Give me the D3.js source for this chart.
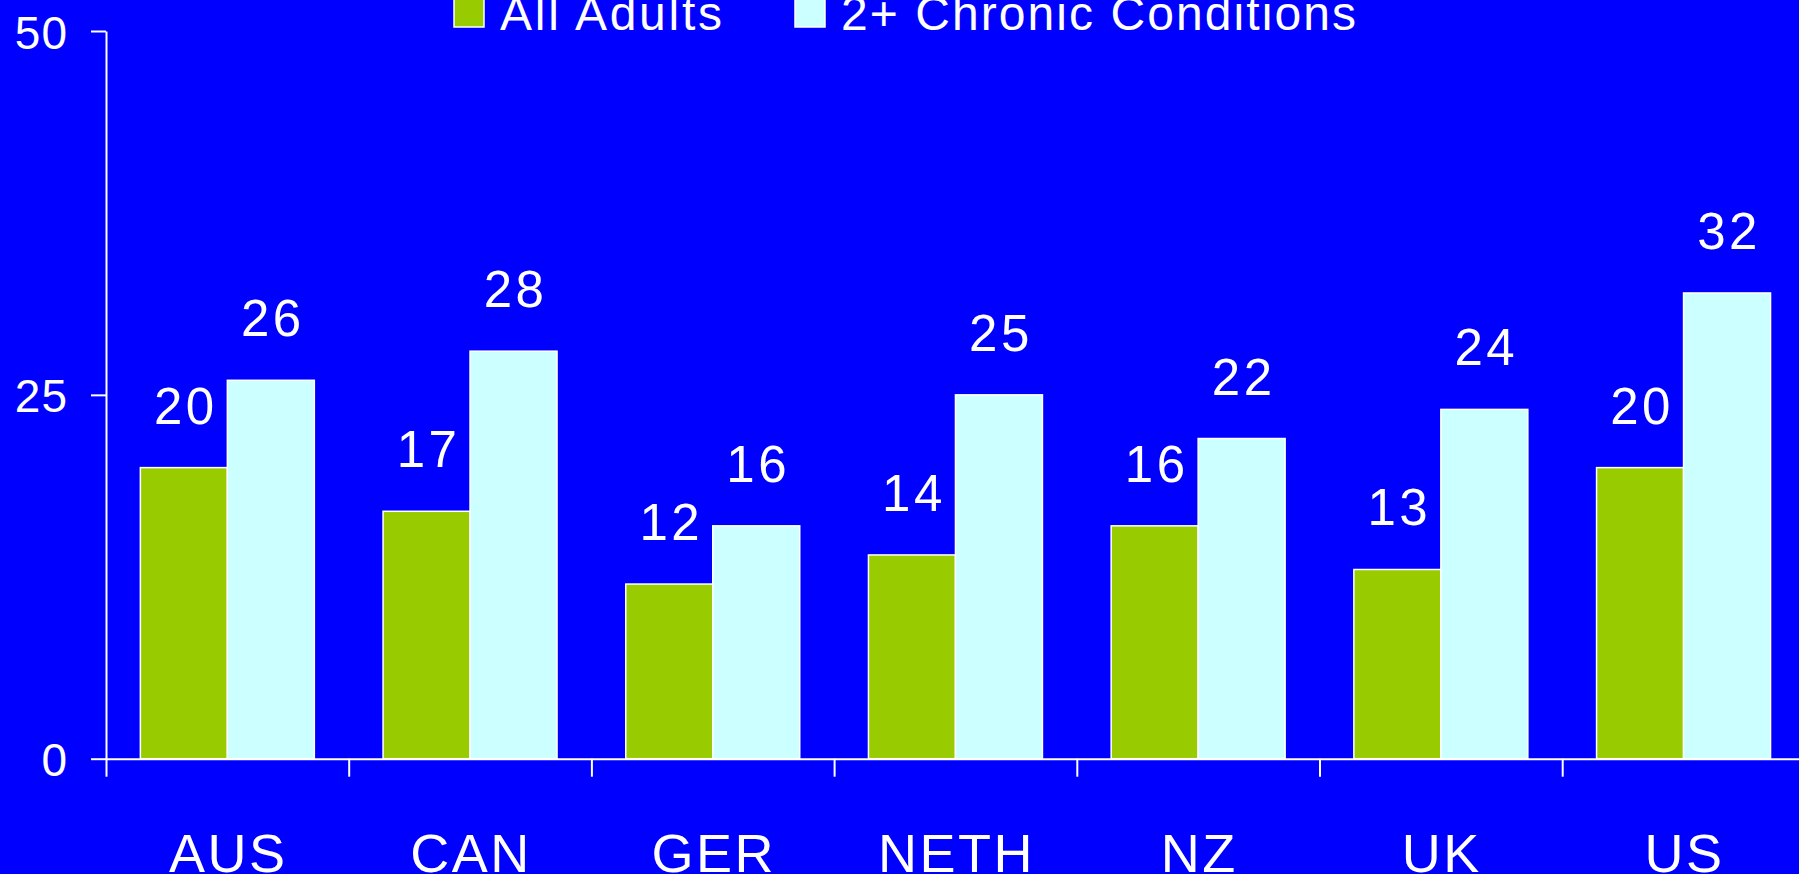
<!DOCTYPE html>
<html>
<head>
<meta charset="utf-8">
<script src="https://cdn.jsdelivr.net/npm/d3@7"></script>
<style>
  html, body { margin: 0; padding: 0; background: #0000FF; overflow: hidden; }
  svg { display: block; }
  text { font-family: "Liberation Sans", Arial, sans-serif; fill: #FFFFFF; }
</style>
</head>
<body>
<svg id="chart" width="1799" height="874"></svg>
<script>
// Share of adults, by country (%)
const countries = ["AUS", "CAN", "GER", "NETH", "NZ", "UK", "US"];
const seriesNames = ["All Adults", "2+ Chronic Conditions"];
const allAdults = [20, 17, 12, 14, 16, 13, 20];
const chronic2plus = [26, 28, 16, 25, 22, 24, 32];
const yTicks = [0, 25, 50];
const seriesColors = ["#99CC00", "#CCFFFF"];

const svg = d3.select("#chart");
const W = 1799, H = 874;

svg.append("rect").attr("width", W).attr("height", H).attr("fill", "#0000FF");

const left = 106, step = 242.7;
const x = d3.scaleBand().domain(countries).range([left, left + step * countries.length])
  .paddingInner(0).paddingOuter(0);
const xSub = d3.scaleBand().domain(seriesNames).range([0, x.bandwidth()])
  .paddingInner(0).paddingOuter(0.395);
const y = d3.scaleLinear().domain([0, 50]).range([758.7, 31]);

const rows = countries.map((c, i) => ({ country: c, values: [allAdults[i], chronic2plus[i]] }));

// bars
const groups = svg.append("g").selectAll("g").data(rows).join("g")
  .attr("transform", d => `translate(${x(d.country)},0)`);

groups.selectAll("rect").data(d => d.values.map((v, k) => ({ v, k })))
  .join("rect")
  .attr("x", d => xSub(seriesNames[d.k]))
  .attr("y", d => y(d.v))
  .attr("width", xSub.bandwidth())
  .attr("height", d => y(0) - y(d.v))
  .attr("fill", d => seriesColors[d.k])
  .attr("stroke", "#FFFFFF")
  .attr("stroke-width", 1.5);

// value labels
groups.selectAll("text.val").data(d => d.values.map((v, k) => ({ v, k })))
  .join("text")
  .attr("class", "val")
  .attr("x", d => xSub(seriesNames[d.k]) + xSub.bandwidth() / 2 + 2)
  .attr("y", d => y(d.v) - 44)
  .attr("text-anchor", "middle")
  .attr("font-size", 51)
  .attr("letter-spacing", 3.5)
  .text(d => d.v);

// y axis
const yAxis = svg.append("g").attr("transform", `translate(${left},0)`)
  .call(d3.axisLeft(y).tickValues(yTicks).tickSize(15).tickSizeOuter(0).tickPadding(23));
yAxis.selectAll("path, line").attr("stroke", "#FFFFFF").attr("stroke-width", 2);
yAxis.selectAll("text").attr("font-size", 46).attr("fill", "#FFFFFF")
  .attr("font-family", "Liberation Sans, Arial, sans-serif").attr("dy", "0.37em")
  .attr("letter-spacing", 1);

// x axis, ticks on category boundaries
const xEdge = d3.scaleLinear().domain([0, countries.length]).range([left, left + step * countries.length]);
const xAxis = svg.append("g").attr("transform", `translate(0,${y(0)})`)
  .call(d3.axisBottom(xEdge).tickValues(d3.range(countries.length + 1)).tickSize(18).tickSizeOuter(0).tickFormat(""));
xAxis.selectAll("path, line").attr("stroke", "#FFFFFF").attr("stroke-width", 2);

// category labels
svg.append("g").selectAll("text").data(countries).join("text")
  .attr("x", d => x(d) + x.bandwidth() / 2 + 1)
  .attr("y", 872)
  .attr("text-anchor", "middle")
  .attr("font-size", 54)
  .attr("letter-spacing", 2.5)
  .text(d => d);

// legend
const legend = [
  { name: seriesNames[0], color: seriesColors[0], sx: 454, tx: 500, len: 222 },
  { name: seriesNames[1], color: seriesColors[1], sx: 795, tx: 841, len: 515 }
];
const lg = svg.append("g").selectAll("g").data(legend).join("g");
lg.append("rect")
  .attr("x", d => d.sx).attr("y", -3).attr("width", 30).attr("height", 30)
  .attr("fill", d => d.color).attr("stroke", "#FFFFFF").attr("stroke-width", 1.5);
lg.append("text")
  .attr("x", d => d.tx).attr("y", 29.5)
  .attr("font-size", 48)
  .attr("textLength", d => d.len).attr("lengthAdjust", "spacing")
  .text(d => d.name);
</script>
</body>
</html>
